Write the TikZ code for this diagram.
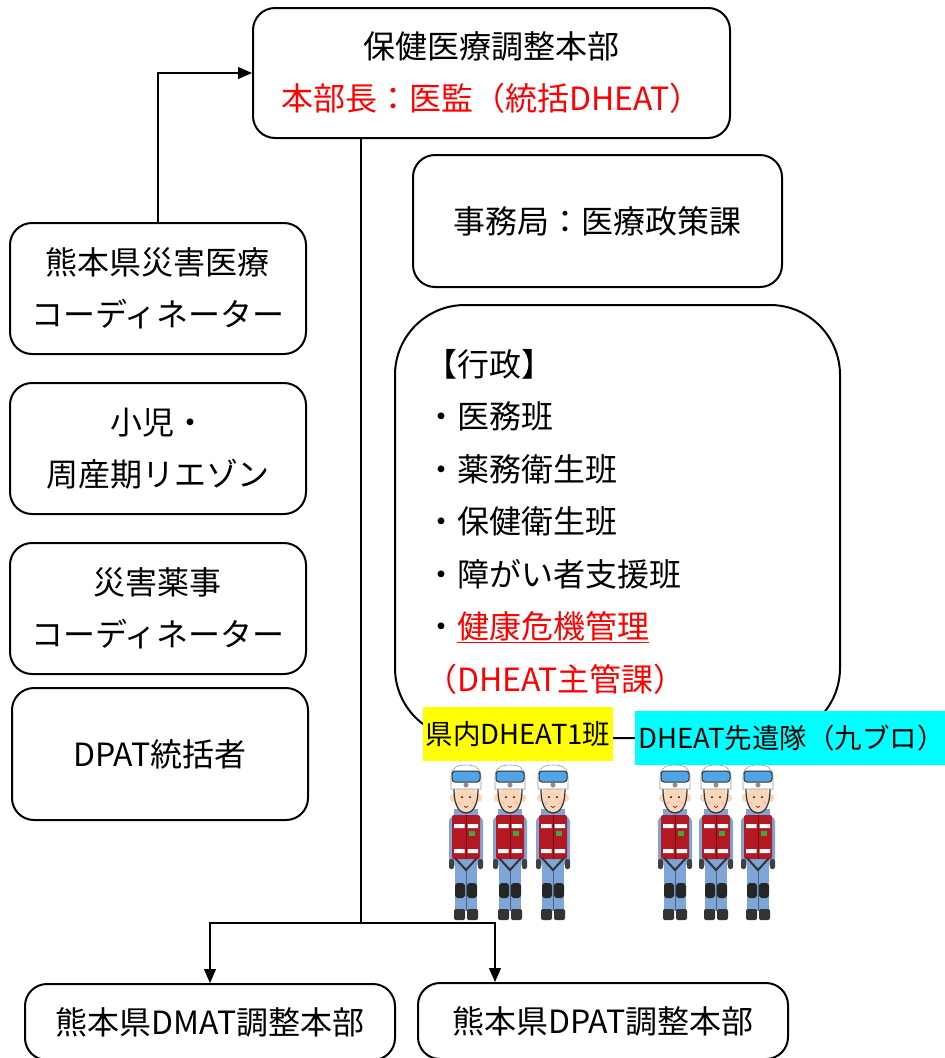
\documentclass[tikz,border=0pt]{standalone}
\usepackage{fontspec}
\setmainfont{Noto Sans CJK JP}
\usepackage{xcolor}
\usetikzlibrary{arrows.meta,positioning}
\definecolor{suitblue}{RGB}{125,165,215}
\definecolor{vestred}{RGB}{180,25,35}
\definecolor{skin}{RGB}{250,215,185}
\definecolor{badgegreen}{RGB}{60,170,60}
\definecolor{goggleblue}{RGB}{80,165,230}
\definecolor{tagyellow}{RGB}{255,255,0}
\definecolor{tagcyan}{RGB}{0,255,255}
\tikzset{>={Triangle[length=14pt,width=12pt]}}
\tikzset{
  box/.style={draw,line width=2pt,rounded corners=22pt,align=center,
    font=\fontsize{32}{52}\selectfont},
  tag/.style={inner xsep=3pt,inner ysep=0pt,minimum height=54pt,
    font=\fontsize{27.5}{34}\selectfont},
  link/.style={line width=1.2pt}
}
\tikzset{
  rescuer/.pic={
    \fill[suitblue] (-11,98) rectangle (11,146);
    \draw[suitblue!60!black,line width=0.6pt] (0,104) -- (0,146);
    \fill[black!85,rounded corners=3pt] (-11,118) rectangle (-1,133) (1,118) rectangle (11,133);
    \fill[black!80,rounded corners=2pt] (-12,144) rectangle (-1,155) (1,144) rectangle (12,155);
    \fill[suitblue,rounded corners=4pt] (-17,52) rectangle (-11,98) (11,52) rectangle (17,98);
    \fill[black!75,rounded corners=2pt] (-17,94) rectangle (-12,104) (12,94) rectangle (17,104);
    \fill[suitblue] (-12,44) rectangle (12,100);
    \fill[vestred,rounded corners=2pt] (-14,50) rectangle (14,94);
    \fill[white] (-12,59) rectangle (-1.5,63) (1.5,59) rectangle (12,63);
    \fill[white] (-12,84) rectangle (-1.5,88) (1.5,84) rectangle (12,88);
    \fill[badgegreen] (3,66) rectangle (9,71);
    \draw[vestred!60!black,line width=0.6pt] (0,50) -- (0,94);
    \draw[black!80,line width=2pt] (-11,93) -- (0,105) -- (11,93);
    \fill[skin] (-13,33) ellipse[x radius=3pt,y radius=4pt] (13,33) ellipse[x radius=3pt,y radius=4pt];
    \fill[skin] (0,33) ellipse[x radius=12pt,y radius=14pt];
    \fill[red!25] (-7,38) circle[radius=2pt] (7,38) circle[radius=2pt];
    \fill[black] (-4,32) circle[radius=1pt] (4,32) circle[radius=1pt];
    \draw[red!60!black,line width=0.6pt] (-2,41) .. controls (0,43) .. (2,41);
    \draw[black!80,line width=1.2pt] (-12,24) .. controls (-12,45) and (-4,48) .. (0,48)
      .. controls (4,48) and (12,45) .. (12,24);
    \filldraw[fill=white,draw=black!40,line width=0.6pt] (-15,24) -- (-15,12)
      .. controls (-15,2) and (-8,0) .. (0,0) .. controls (8,0) and (15,2) .. (15,12) -- (15,24) -- cycle;
    \filldraw[fill=goggleblue,draw=black!80,line width=1pt,rounded corners=3pt] (-14,6) rectangle (14,17);
    \fill[black!45] (0,20) circle[radius=2.5pt];
  }
}

\begin{document}
\begin{tikzpicture}[x=1pt,y=-1pt]
  \useasboundingbox (0,0) rectangle (945,1058);

  \node[box,minimum width=477pt,minimum height=130pt] (hq) at (491.5,73)
    {保健医療調整本部\\\textcolor{red}{本部長：医監（統括DHEAT）}};
  \node[box,minimum width=369pt,minimum height=132pt] (office) at (597.5,221)
    {事務局：医療政策課};
  \node[box,rounded corners=70pt,minimum width=445pt,minimum height=433pt,
    text width=385pt,align=left,font=\fontsize{32}{52.5}\selectfont] (gyosei) at (617.5,521.5)
    {【行政】\\・医務班\\・薬務衛生班\\・保健衛生班\\・障がい者支援班\\
     ・\textcolor{red}{\underline{健康危機管理}}\\\textcolor{red}{（DHEAT主管課）}};

  \node[box,minimum width=296pt,minimum height=131pt] (coord) at (158,288.5)
    {熊本県災害医療\\コーディネーター};
  \node[box,minimum width=296pt,minimum height=131pt] (liaison) at (158,448.5)
    {小児・\\周産期リエゾン};
  \node[box,minimum width=296pt,minimum height=131pt] (pharma) at (158,608.5)
    {災害薬事\\コーディネーター};
  \node[box,minimum width=296pt,minimum height=132pt] (dpatlead) at (160,754)
    {DPAT統括者};

  \node[box,minimum width=370pt,minimum height=76pt] (dmat) at (210,1022)
    {熊本県DMAT調整本部};
  \node[box,minimum width=370pt,minimum height=76pt] (dpathq) at (603,1021)
    {熊本県DPAT調整本部};

  \node[tag,fill=tagyellow] (team1) at (518,734) {県内DHEAT1班};
  \node[tag,fill=tagcyan,anchor=west] (advance) at (635,738) {DHEAT先遣隊（九ブロ）};

  \foreach \x in {466,510,553,675,716,758}
    \pic at (\x,765) {rescuer};

  \coordinate (split) at (361,923);
  \draw[link,->] (coord.north) |- (hq.west);
  \draw[link] (hq.south -| split) -- (split);
  \draw[link,->] (split) -| (dmat.north);
  \draw[link,->] (split) -| ([xshift=-108pt]dpathq.north);
\end{tikzpicture}
\end{document}
